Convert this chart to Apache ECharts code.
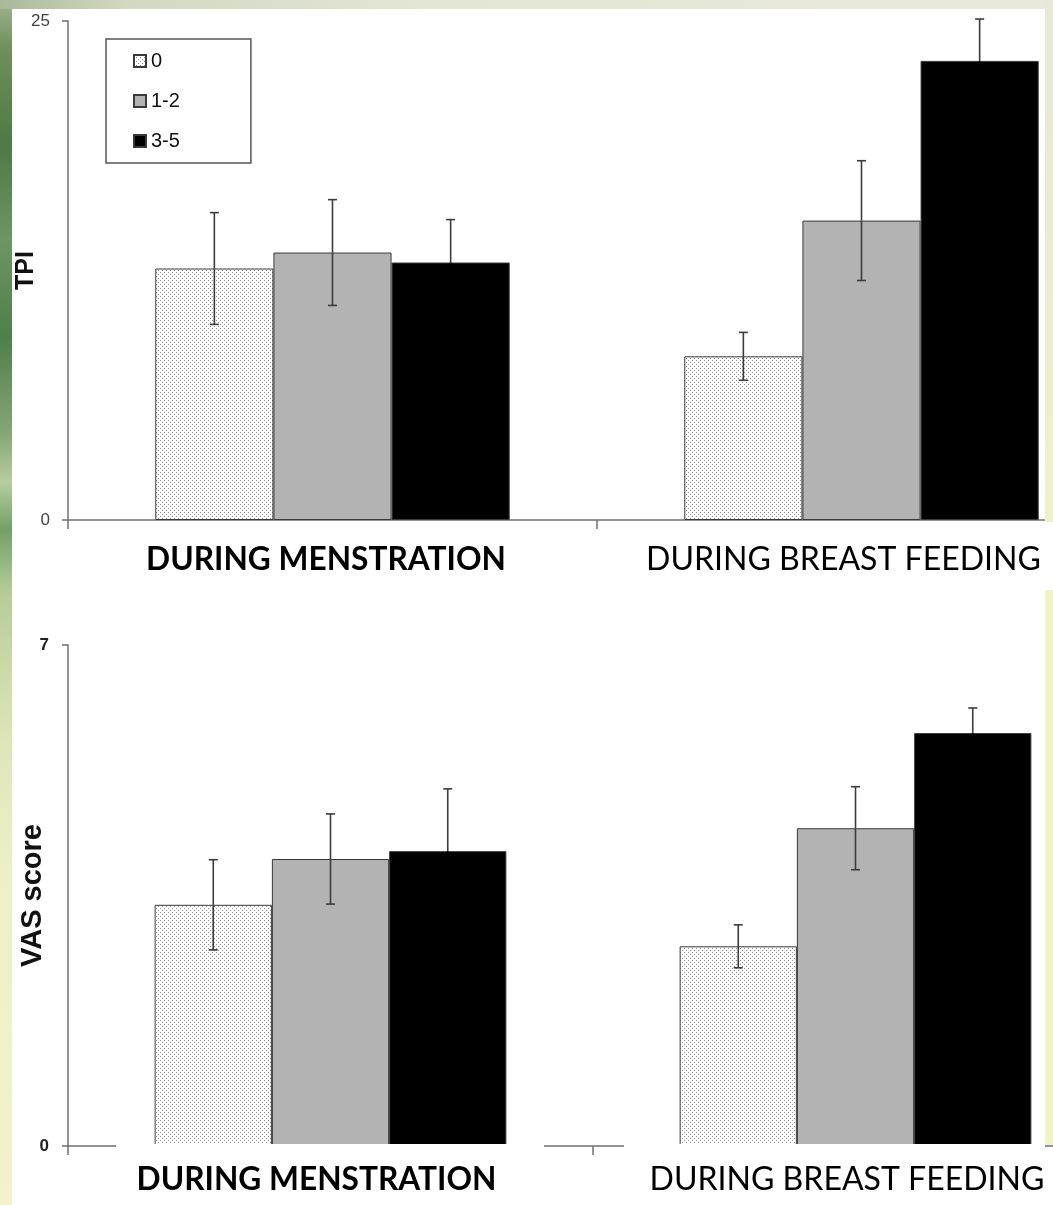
<!DOCTYPE html>
<html>
<head>
<meta charset="utf-8">
<script src="https://cdn.jsdelivr.net/npm/echarts@6/dist/echarts.min.js"></script>
<style>
  html, body { margin: 0; padding: 0; background: #ffffff; }
  #chart { width: 1053px; height: 1205px; }
</style>
</head>
<body>
<div id="chart"></div>
<script>
// ---- data ----
const categories = ['DURING MENSTRATION', 'DURING BREAST FEEDING'];
const groupNames = ['0', '1-2', '3-5'];

// TPI means and error half-widths, one array per group, across the two categories
const tpiMean0  = [12.6, 8.2];
const tpiMean12 = [13.4, 15.0];
const tpiMean35 = [12.9, 23.0];
const tpiErr0   = [2.8, 1.2];
const tpiErr12  = [2.65, 3.0];
const tpiErr35  = [2.15, 2.1];

// VAS score means and error half-widths
const vasMean0  = [3.37, 2.79];
const vasMean12 = [4.01, 4.44];
const vasMean35 = [4.12, 5.77];
const vasErr0   = [0.63, 0.30];
const vasErr12  = [0.63, 0.58];
const vasErr35  = [0.87, 0.35];

// axis ranges (only the end ticks are labelled)
const tpiTicks = [0, 25];
const vasTicks = [0, 7];

// ---- styling helpers ----
const CAT_GAP = 0.33;           // barCategoryGap as a fraction
const GROUPS = 3;

function dotPattern() {
  const c = document.createElement('canvas');
  c.width = 4; c.height = 4;
  const g = c.getContext('2d');
  g.fillStyle = '#ffffff';
  g.fillRect(0, 0, 4, 4);
  g.fillStyle = '#8c8c8c';
  g.fillRect(0, 0, 1, 1);
  g.fillRect(2, 2, 1, 1);
  return { image: c, repeat: 'repeat' };
}
const fills = [dotPattern(), '#b3b3b3', '#000000'];
// whisker colour below the mean (lost against the solid black bar)
const lowerWhisker = ['#3c3c3c', '#3c3c3c', '#000000'];

function fitSize(text, weight, family, width) {
  const g = document.createElement('canvas').getContext('2d');
  g.font = weight + ' 100px ' + family;
  return 100 * width / g.measureText(text).width;
}
const LABEL_FONT = 'Lato';
const boldSize = fitSize(categories[0], 'bold', LABEL_FONT, 360);
const normSize = fitSize(categories[1], 'normal', LABEL_FONT, 395);

function barSeries(name, values, idx, axis) {
  return {
    type: 'bar', name: name, data: values,
    xAxisIndex: axis, yAxisIndex: axis,
    barGap: '0%', barCategoryGap: (CAT_GAP * 100) + '%',
    itemStyle: { color: fills[idx], borderColor: '#3a3a3a', borderWidth: 1 },
    emphasis: { disabled: true },
    z: 2
  };
}

function errSeries(means, errs, idx, axis) {
  return {
    type: 'custom', name: 'err' + axis + '_' + idx,
    xAxisIndex: axis, yAxisIndex: axis,
    data: means.map((m, i) => [i, m, errs[i]]),
    z: 5,
    renderItem: function (params, api) {
      const cat = api.value(0), m = api.value(1), e = api.value(2);
      const band = api.size([1, 0])[0];
      const bw = band * (1 - CAT_GAP) / GROUPS;
      const mid = api.coord([cat, m]);
      const x = mid[0] + (idx - 1) * bw;
      const yMid = mid[1];
      const yTop = api.coord([cat, m + e])[1];
      const yBot = api.coord([cat, m - e])[1];
      const cap = 4.5;
      const up = { stroke: '#3c3c3c', lineWidth: 1.6 };
      const down = { stroke: lowerWhisker[idx], lineWidth: 1.6 };
      return {
        type: 'group',
        children: [
          { type: 'line', shape: { x1: x, y1: yTop, x2: x, y2: yMid }, style: up },
          { type: 'line', shape: { x1: x - cap, y1: yTop, x2: x + cap, y2: yTop }, style: up },
          { type: 'line', shape: { x1: x, y1: yMid, x2: x, y2: yBot }, style: down },
          { type: 'line', shape: { x1: x - cap, y1: yBot, x2: x + cap, y2: yBot }, style: down }
        ]
      };
    }
  };
}

const axisLineStyle = { color: '#707070', width: 1.5 };

function catAxis(gridIndex, margin, padA, padB) {
  return {
    type: 'category', gridIndex: gridIndex, data: categories,
    axisLine: { lineStyle: axisLineStyle },
    axisTick: { show: true, alignWithLabel: false, length: 9, lineStyle: axisLineStyle },
    axisLabel: {
      interval: 0, margin: margin, color: '#000', hideOverlap: false,
      formatter: (v, i) => '{' + (i === 0 ? 'a' : 'b') + '|' + v + '}',
      rich: {
        a: { fontFamily: LABEL_FONT, fontWeight: 'bold', fontSize: boldSize, lineHeight: boldSize,
             color: '#000', padding: [0, padA, 0, 0] },
        b: { fontFamily: LABEL_FONT, fontWeight: 'normal', fontSize: normSize, lineHeight: normSize,
             color: '#000', padding: [0, padB, 0, 0] }
      }
    }
  };
}

function valAxis(gridIndex, ticks, name, labelStyle, nameSize, nameGap) {
  return {
    type: 'value', gridIndex: gridIndex,
    min: ticks[0], max: ticks[1], interval: ticks[1] - ticks[0],
    splitLine: { show: false },
    axisLine: { show: true, lineStyle: axisLineStyle },
    axisTick: { show: true, length: 6, lineStyle: axisLineStyle },
    axisLabel: Object.assign({ fontFamily: 'Liberation Sans' }, labelStyle),
    name: name, nameLocation: 'middle', nameRotate: 90, nameGap: nameGap,
    nameMoveOverlap: false,
    nameTextStyle: { fontFamily: 'Liberation Sans', fontWeight: 'bold', fontSize: nameSize, color: '#111' }
  };
}

const chart = echarts.init(document.getElementById('chart'), null, { renderer: 'canvas' });

const option = {
  animation: false,
  backgroundColor: '#ffffff',
  grid: [
    { left: 68, top: 21, width: 1058, height: 499, containLabel: false, outerBoundsMode: 'none' },
    { left: 68, top: 645, width: 1050, height: 501, containLabel: false, outerBoundsMode: 'none' }
  ],
  legend: {
    data: groupNames,
    orient: 'vertical', left: 106, top: 39,
    padding: [12, 71, 12, 27], itemGap: 20,
    itemWidth: 12, itemHeight: 12, itemTextGap: 6,
    icon: 'rect',
    borderColor: '#555', borderWidth: 1.5, backgroundColor: '#fff',
    textStyle: { fontFamily: 'Liberation Sans', fontSize: 20, lineHeight: 20, color: '#111' },
    selectedMode: false
  },
  xAxis: [
    catAxis(0, 24, 13, 36),
    catAxis(1, 18, 28, 17)
  ],
  yAxis: [
    valAxis(0, tpiTicks, 'TPI',
      { fontSize: 17, color: '#444', margin: 18 }, 25, 29),
    valAxis(1, vasTicks, 'VAS score',
      { fontSize: 17, fontWeight: 'bold', color: '#222', margin: 19 }, 29, 21)
  ],
  series: [
    barSeries(groupNames[0], tpiMean0, 0, 0),
    barSeries(groupNames[1], tpiMean12, 1, 0),
    barSeries(groupNames[2], tpiMean35, 2, 0),
    errSeries(tpiMean0, tpiErr0, 0, 0),
    errSeries(tpiMean12, tpiErr12, 1, 0),
    errSeries(tpiMean35, tpiErr35, 2, 0),
    barSeries(groupNames[0], vasMean0, 0, 1),
    barSeries(groupNames[1], vasMean12, 1, 1),
    barSeries(groupNames[2], vasMean35, 2, 1),
    errSeries(vasMean0, vasErr0, 0, 1),
    errSeries(vasMean12, vasErr12, 1, 1),
    errSeries(vasMean35, vasErr35, 2, 1)
  ],
  graphic: [
    // slide background showing at the page edges
    { type: 'rect', z: 100, silent: true, shape: { x: 0, y: 0, width: 12, height: 1205 },
      style: { fill: { type: 'linear', x: 0, y: 0, x2: 0, y2: 1, colorStops: [
        { offset: 0.00, color: '#a3b58f' }, { offset: 0.04, color: '#6f8f5c' },
        { offset: 0.12, color: '#4e7a45' }, { offset: 0.20, color: '#6c9662' },
        { offset: 0.28, color: '#4f7f48' }, { offset: 0.36, color: '#86a676' },
        { offset: 0.40, color: '#b6cda0' }, { offset: 0.44, color: '#73a066' },
        { offset: 0.49, color: '#b4cb98' }, { offset: 0.55, color: '#cbd8a6' },
        { offset: 0.62, color: '#dfe6b8' }, { offset: 0.72, color: '#edf0c7' },
        { offset: 1.00, color: '#f2f3cc' } ] } } },
    { type: 'rect', z: 100, silent: true, shape: { x: 0, y: 0, width: 1053, height: 9 },
      style: { fill: { type: 'linear', x: 0, y: 0, x2: 1, y2: 0, colorStops: [
        { offset: 0, color: '#a9b99a' }, { offset: 0.12, color: '#d2d9c0' },
        { offset: 0.4, color: '#e3e6d3' }, { offset: 1, color: '#e9e9da' } ] } } },
    { type: 'rect', z: 100, silent: true, shape: { x: 1045, y: 0, width: 8, height: 522 },
      style: { fill: { type: 'linear', x: 0, y: 0, x2: 0, y2: 1, colorStops: [
        { offset: 0, color: '#e8e8da' }, { offset: 1, color: '#eff0cc' } ] } } },
    { type: 'rect', z: 100, silent: true, shape: { x: 1045, y: 590, width: 8, height: 555 },
      style: { fill: '#f1f2cc' } },
    // label boxes laid over the lower category axis line
    { type: 'rect', z: 50, silent: true, shape: { x: 116, y: 1144, width: 428, height: 6 },
      style: { fill: '#ffffff' } },
    { type: 'rect', z: 50, silent: true, shape: { x: 624, y: 1144, width: 421, height: 6 },
      style: { fill: '#ffffff' } }
  ]
};

chart.setOption(option);
</script>
</body>
</html>
